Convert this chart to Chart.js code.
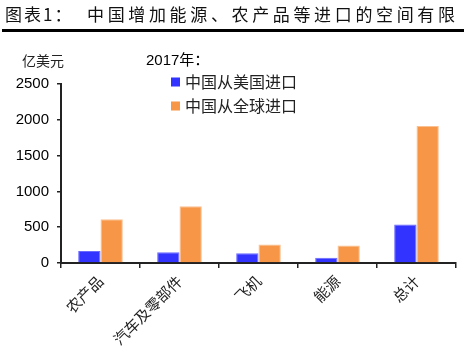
<!DOCTYPE html>
<html>
<head>
<meta charset="utf-8">
<script src="https://cdn.jsdelivr.net/npm/chart.js@4/dist/chart.umd.min.js"></script>
<style>
    html, body { margin: 0; padding: 0; background: #fff; }
    #wrap { width: 464px; height: 350px; }
</style>
</head>
<body>
<div id="wrap"><canvas id="importChart" width="464" height="350"></canvas></div>
<script>
const categories = ['农产品', '汽车及零部件', '飞机', '能源', '总计'];
const fromUS = [168, 150, 135, 75, 537];
const fromWorld = [611, 793, 257, 243, 1912];
const seriesNames = ['中国从美国进口', '中国从全球进口'];
const yTicks = [0, 500, 1000, 1500, 2000, 2500];

const FONT = '"Liberation Sans", "Noto Sans CJK SC", sans-serif';
const CJK = '"Noto Sans CJK SC", sans-serif';
const barColors = ['#3333FF', '#F79646'];
const barBorders = ['#6A6AFF', '#FAC090'];

// title, unit, legend drawn on top of the canvas
const decoPlugin = {
    id: 'deco',
    afterDraw(chart) {
        const ctx = chart.ctx;
        ctx.save();
        ctx.fillStyle = '#111';
        ctx.textBaseline = 'middle';

        ctx.font = '17px ' + CJK;
        ctx.textAlign = 'left';
        ctx.letterSpacing = '2px';
        ctx.fillText('图表1：', 5, 15);
        const rest = '中国增加能源、农产品等进口的空间有限';
        ctx.letterSpacing = '0px';
        const w = ctx.measureText(rest).width;
        ctx.letterSpacing = ((368 - w) / (rest.length - 1)) + 'px';
        ctx.fillText(rest, 87, 15);
        ctx.letterSpacing = '0px';

        ctx.fillStyle = '#000';
        ctx.fillRect(2, 29, 462, 3);

        ctx.fillStyle = '#222';
        ctx.font = '14px ' + CJK;
        ctx.fillText('亿美元', 22, 61);

        ctx.fillStyle = '#000';
        ctx.font = '15px ' + FONT;
        ctx.fillText('2017年：', 146, 61);

        ctx.font = '16px ' + CJK;
        seriesNames.forEach((name, i) => {
            const y = 82 + i * 24;
            ctx.fillStyle = barColors[i];
            ctx.fillRect(171, y - 4.5, 9, 9);
            ctx.fillStyle = '#222';
            ctx.fillText(name, 185, y);
        });
        ctx.restore();
    }
};

const ctx = document.getElementById('importChart').getContext('2d');
new Chart(ctx, {
    type: 'bar',
    data: {
        labels: categories,
        datasets: [{
            label: seriesNames[0],
            data: fromUS,
            backgroundColor: barColors[0],
            borderColor: barBorders[0],
            borderWidth: 1,
            categoryPercentage: 0.565,
            barPercentage: 1
        }, {
            label: seriesNames[1],
            data: fromWorld,
            backgroundColor: barColors[1],
            borderColor: barBorders[1],
            borderWidth: 1,
            categoryPercentage: 0.565,
            barPercentage: 1
        }]
    },
    options: {
        responsive: false,
        animation: false,
        layout: { padding: { top: 84, right: 8, left: 0, bottom: 0 } },
        plugins: {
            legend: { display: false },
            tooltip: { enabled: false }
        },
        scales: {
            x: {
                afterFit: function (scale) { scale.height = 87; },
                border: { display: true, color: '#222', width: 2 },
                grid: { display: true, drawOnChartArea: false, color: '#222', tickLength: 5, lineWidth: 1.5 },
                ticks: {
                    minRotation: 45, maxRotation: 45, autoSkip: false, padding: 4,
                    color: '#222', font: { family: CJK, size: 15 }
                }
            },
            y: {
                min: 0,
                max: 2500,
                afterFit: function (scale) { scale.width = 61; },
                afterBuildTicks: function (scale) { scale.ticks = yTicks.map(v => ({ value: v })); },
                border: { display: true, color: '#222', width: 2 },
                grid: { display: true, drawOnChartArea: false, color: '#222', tickLength: 4, lineWidth: 1.5 },
                ticks: {
                    padding: 8, color: '#000', font: { family: FONT, size: 15 },
                    callback: function (value) { return String(value); }
                }
            }
        }
    },
    plugins: [decoPlugin]
});
</script>
</body>
</html>
